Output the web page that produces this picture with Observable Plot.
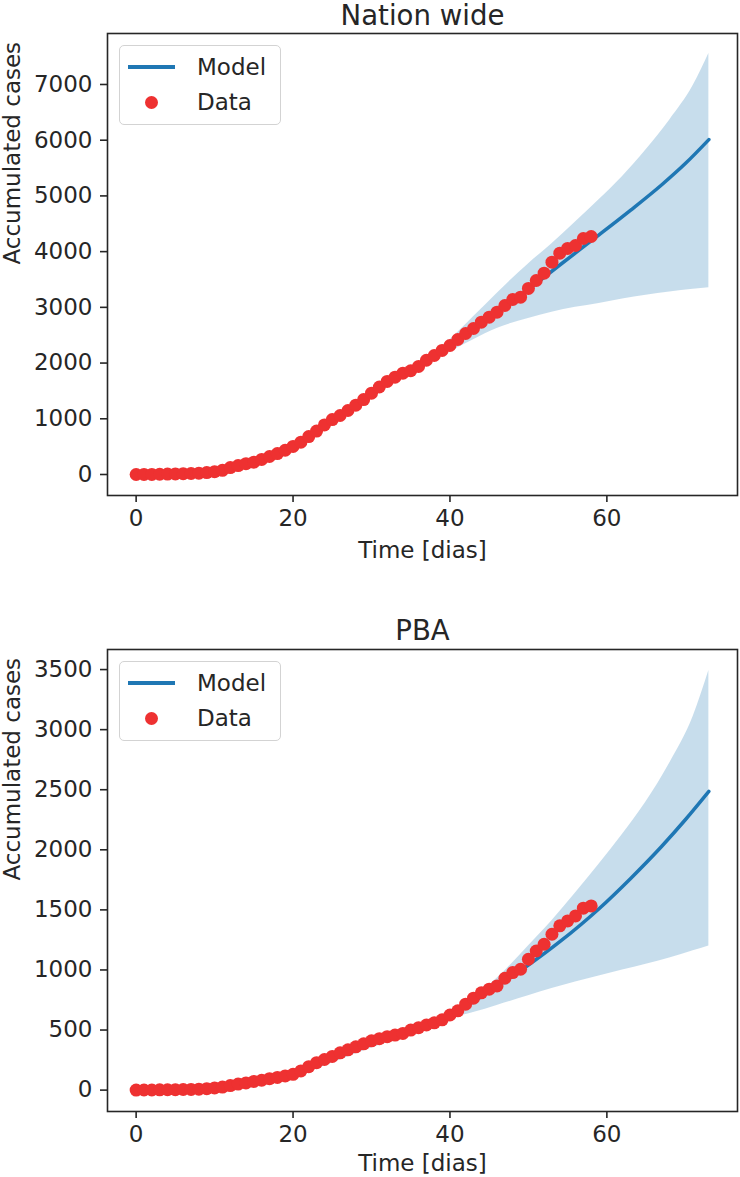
<!DOCTYPE html>
<html>
<head>
<meta charset="utf-8">
<script src="https://cdn.jsdelivr.net/npm/d3@7"></script>
<script src="https://cdn.jsdelivr.net/npm/@observablehq/plot@0.6"></script>
<style>
  html, body { margin: 0; padding: 0; background: white; }
  #wrap { position: relative; width: 740px; height: 1177px; overflow: hidden; font-family: 'DejaVu Sans', sans-serif; color: #262626; }
  #wrap svg { display: block; }
  .legend { position: absolute; left: 119px; width: 162px; height: 80px; box-sizing: border-box;
            border: 1px solid #d3d3d3; border-radius: 5px; background: rgba(255,255,255,0.8); }
  .legend .ln { position: absolute; left: 8px; width: 47px; height: 3.5px; background: #1f77b4; }
  .legend .dt { position: absolute; width: 13px; height: 13px; border-radius: 50%; background: #ee3131; }
  .legend .tx { position: absolute; left: 77px; height: 28px; line-height: 28px; font-size: 23px; white-space: nowrap; }
</style>
</head>
<body>
<div id="wrap"></div>
<script>
// ---- data ----
const days = [0,1,2,3,4,5,6,7,8,9,10,11,12,13,14,15,16,17,18,19,20,21,22,23,24,25,26,27,28,29,30,31,32,33,34,35,36,37,38,39,40,41,42,43,44,45,46,47,48,49,50,51,52,53,54,55,56,57,58];
const nationCases = [0,1,2,4,7,10,14,18,24,34,50,75,125,160,195,222,270,323,375,435,503,580,680,780,890,985,1059,1149,1245,1345,1460,1570,1670,1747,1818,1862,1940,2050,2136,2226,2315,2423,2531,2620,2734,2824,2913,3033,3141,3183,3339,3482,3614,3811,3972,4057,4110,4236,4272];
const pbaCases = [0,1,1,2,3,4,5,6,8,12,18,25,38,50,60,72,82,95,106,118,131,160,195,228,255,280,310,335,360,385,410,428,445,458,472,500,520,542,560,585,625,660,715,765,810,840,867,931,978,1006,1089,1158,1214,1297,1367,1408,1450,1514,1533];

const modelDays = [0,5,10,15,20,25,30,35,40,45,50,54,59,63,67,70,73];
const nationModel = [0,10,50,225,500,960,1450,1880,2300,2830,3320,3760,4300,4740,5200,5580,6010];
const pbaModel = [0,5,22,72,131,280,405,495,625,820,1040,1235,1510,1760,2030,2250,2486];

const bandDays = [0,10,20,30,35,38,40,43,46,50,53,56,59,62,65,68,71,73];
const nationUpper = [0,50,510,1470,1930,2200,2420,2830,3250,3780,4140,4530,4930,5350,5830,6360,6980,7557];
const nationLower = [0,50,490,1430,1830,2040,2200,2420,2620,2800,2910,3000,3070,3150,3215,3275,3325,3350];
const pbaUpper = [0,20,125,370,500,575,645,770,930,1200,1410,1640,1880,2130,2400,2720,3110,3492];
const pbaLower = [0,20,115,350,460,535,590,645,705,785,845,900,950,1000,1048,1100,1160,1200];

const xTicks = [0,20,40,60];
const nationYTicks = [0,1000,2000,3000,4000,5000,6000,7000];
const pbaYTicks = [0,500,1000,1500,2000,2500,3000,3500];
const titles = ["Nation wide", "PBA"];
const xLabel = "Time [dias]";
const yLabel = "Accumulated cases";
const legendLabels = ["Model", "Data"];

function panel(title, cases, model, upper, lower, yDomain, yTicks, height, marginTop, marginBottom, titleDy, xLabelDy) {
  const obs = days.map((t, i) => ({t, v: cases[i]}));
  const mod = modelDays.map((t, i) => ({t, v: model[i]}));
  const band = bandDays.map((t, i) => ({t, hi: upper[i], lo: lower[i]}));
  return Plot.plot({
    width: 740, height, marginLeft: 107, marginRight: 3, marginTop, marginBottom,
    style: {fontFamily: "'DejaVu Sans', sans-serif", fontSize: "23px", color: "#262626", background: "white", overflow: "visible"},
    x: {domain: [-3.65, 76.65]},
    y: {domain: yDomain},
    marks: [
      Plot.areaY(band, {x: "t", y1: "lo", y2: "hi", fill: "#1f77b4", fillOpacity: 0.25, curve: "monotone-x"}),
      Plot.line(mod, {x: "t", y: "v", stroke: "#1f77b4", strokeWidth: 3.5, curve: "monotone-x"}),
      Plot.dot(obs, {x: "t", y: "v", r: 6.5, fill: "#ee3131"}),
      Plot.frame({stroke: "#262626", strokeWidth: 1.6}),
      Plot.axisX({ticks: xTicks, tickSize: 7, tickPadding: 7, label: null, tickFormat: d => String(d), strokeWidth: 1.6}),
      Plot.axisY({ticks: yTicks, tickSize: 7, tickPadding: 8, label: null, tickFormat: d => String(d), strokeWidth: 1.6}),
      Plot.text([title], {frameAnchor: "top", dy: titleDy, lineAnchor: "middle", fontSize: 27.6, fill: "#262626"}),
      Plot.text([xLabel], {frameAnchor: "bottom", dy: xLabelDy, lineAnchor: "middle", fill: "#262626"}),
      Plot.text([yLabel], {frameAnchor: "left", dx: -95, rotate: -90, lineAnchor: "middle", fill: "#262626"})
    ]
  });
}

const wrap = document.getElementById("wrap");
wrap.appendChild(panel(titles[0], nationCases, nationModel, nationUpper, nationLower, [-377, 7915], nationYTicks, 580, 33, 85, -17, 55));
wrap.appendChild(panel(titles[1], pbaCases, pbaModel, pbaUpper, pbaLower, [-178, 3667], pbaYTicks, 597, 69, 66, -18, 52));

[45, 661].forEach(top => {
  const lg = document.createElement("div");
  lg.className = "legend";
  lg.style.top = top + "px";
  lg.innerHTML =
    `<div class="ln" style="top:${21 - 1.75}px"></div>` +
    `<div class="tx" style="top:${21 - 14}px">${legendLabels[0]}</div>` +
    `<div class="dt" style="left:${31.5 - 6.5}px;top:${56 - 6.5}px"></div>` +
    `<div class="tx" style="top:${56 - 14}px">${legendLabels[1]}</div>`;
  wrap.appendChild(lg);
});
</script>
</body>
</html>
